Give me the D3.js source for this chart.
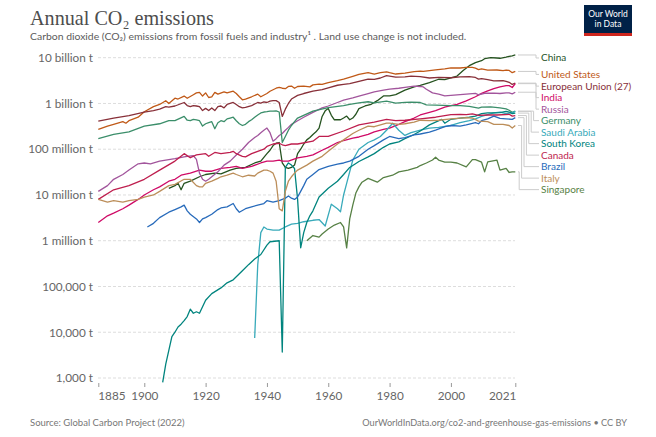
<!DOCTYPE html>
<html><head><meta charset="utf-8">
<script src="https://cdn.jsdelivr.net/npm/d3@7"></script>
<style>body{margin:0;background:#fff}svg{display:block}</style>
</head><body><svg id="c" width="656" height="437"></svg>
<script>
// ---------- DATA (values in million tonnes CO2) ----------
const yTicks = [1e3,1e4,1e5,1e6,1e7,1e8,1e9,1e10];
const yTickLabels = ["1,000 t","10,000 t","100,000 t","1 million t","10 million t","100 million t","1 billion t","10 billion t"];
const xTicks = [1885,1900,1920,1940,1960,1980,2000,2021];
const countries = ["China","United States","European Union (27)","India","Russia","Germany","Saudi Arabia","South Korea","Canada","Brazil","Italy","Singapore"];
const colors = ["#25521f","#C05917","#883039","#CF0A66","#A2559C","#3B8E6A","#38AABA","#00847E","#BE1E4E","#286BBB","#BC8E5A","#578145"];

const china = [[1908,14],[1910,16],[1911,18],[1912,13],[1913,18],[1915,20],[1918,25],[1920,28],[1923,30],[1925,29],[1928,35],[1930,38],[1933,40],[1936,50],[1938,55],[1940,80],[1941,95],[1942,120],[1943,135],[1944,140],[1945,50],[1946,40],[1947,38],[1948,40],[1949,45],[1950,80],[1951,100],[1952,130],[1953,160],[1954,180],[1955,210],[1956,240],[1957,290],[1958,520],[1959,690],[1960,780],[1961,550],[1962,440],[1963,440],[1964,440],[1965,480],[1966,530],[1967,440],[1968,480],[1969,580],[1970,770],[1972,880],[1974,960],[1976,1150],[1978,1460],[1980,1470],[1982,1560],[1985,1950],[1988,2310],[1990,2480],[1993,2860],[1996,3380],[1998,3330],[2000,3640],[2002,3970],[2004,5250],[2006,6700],[2008,7800],[2010,8600],[2011,9500],[2012,9800],[2013,10000],[2015,9860],[2016,9720],[2018,10300],[2019,10700],[2020,11000],[2021,11470]];
const unitedStates = [[1885,270],[1888,320],[1890,350],[1893,400],[1894,370],[1895,420],[1898,500],[1900,660],[1903,850],[1905,950],[1907,1150],[1908,1000],[1910,1300],[1911,1250],[1913,1450],[1914,1300],[1916,1550],[1917,1700],[1918,1750],[1919,1450],[1920,1700],[1921,1350],[1922,1400],[1923,1750],[1924,1600],[1926,1800],[1927,1700],[1929,1850],[1930,1650],[1931,1400],[1932,1200],[1933,1250],[1935,1400],[1937,1600],[1938,1400],[1940,1650],[1941,1850],[1943,2150],[1944,2250],[1945,2150],[1946,2100],[1947,2350],[1948,2400],[1949,2150],[1950,2350],[1952,2400],[1954,2300],[1955,2550],[1957,2650],[1958,2600],[1960,2850],[1963,3150],[1965,3400],[1968,3900],[1970,4300],[1973,4700],[1975,4400],[1977,4700],[1979,4900],[1980,4700],[1982,4400],[1985,4600],[1988,4950],[1990,5100],[1991,5050],[1995,5400],[1998,5700],[2000,6000],[2003,5950],[2005,6130],[2007,6130],[2008,5900],[2009,5480],[2010,5680],[2012,5360],[2015,5390],[2017,5210],[2018,5380],[2019,5260],[2020,4710],[2021,5010]];
const eu27 = [[1885,410],[1890,480],[1895,540],[1900,650],[1903,700],[1905,750],[1907,850],[1908,830],[1910,880],[1913,1050],[1914,900],[1915,850],[1916,900],[1917,880],[1918,850],[1919,700],[1920,780],[1921,700],[1922,800],[1923,700],[1924,850],[1925,880],[1926,800],[1927,950],[1929,1050],[1930,950],[1931,850],[1932,800],[1933,820],[1935,900],[1937,1050],[1938,1020],[1939,1080],[1940,1050],[1941,1120],[1942,1150],[1943,1150],[1944,1050],[1945,520],[1946,750],[1947,1000],[1948,1250],[1950,1500],[1952,1650],[1955,1850],[1958,2000],[1960,2200],[1963,2500],[1965,2600],[1967,2700],[1970,3050],[1973,3400],[1975,3350],[1977,3600],[1979,4050],[1980,3950],[1982,3750],[1985,3800],[1987,3950],[1990,3850],[1993,3600],[1996,3700],[2000,3650],[2003,3800],[2006,3850],[2008,3700],[2009,3400],[2010,3500],[2012,3300],[2014,3100],[2017,3150],[2018,3050],[2019,2900],[2020,2600],[2021,2780]];
const india = [[1885,2.5],[1888,3.5],[1890,4],[1893,5],[1895,6],[1898,8],[1900,10],[1903,13],[1905,15],[1908,20],[1910,22],[1912,27],[1915,30],[1918,35],[1920,33],[1922,33],[1925,38],[1928,40],[1930,42],[1932,38],[1935,42],[1938,50],[1940,55],[1942,55],[1944,58],[1945,55],[1947,55],[1950,65],[1953,70],[1955,75],[1958,95],[1960,110],[1963,140],[1965,155],[1968,175],[1970,185],[1973,210],[1975,240],[1978,270],[1980,290],[1983,350],[1985,400],[1988,480],[1990,560],[1993,640],[1995,700],[1998,830],[2000,900],[2002,950],[2005,1140],[2008,1400],[2010,1660],[2012,1880],[2014,2100],[2016,2300],[2018,2450],[2019,2450],[2020,2230],[2021,2710]];
const russia = [[1885,12],[1888,16],[1890,22],[1893,28],[1895,35],[1898,48],[1900,50],[1902,48],[1905,55],[1907,58],[1910,62],[1913,68],[1914,70],[1916,72],[1917,60],[1918,30],[1919,22],[1920,20],[1921,22],[1922,25],[1924,32],[1926,45],[1928,55],[1930,75],[1932,100],[1934,140],[1936,180],[1937,200],[1938,230],[1939,260],[1940,290],[1941,230],[1942,150],[1943,170],[1944,200],[1945,220],[1946,260],[1947,300],[1948,350],[1950,420],[1952,500],[1955,640],[1958,800],[1960,880],[1963,1050],[1965,1180],[1968,1320],[1970,1450],[1973,1650],[1975,1800],[1978,1950],[1980,2050],[1983,2150],[1985,2250],[1988,2400],[1990,2350],[1991,2300],[1992,2050],[1994,1700],[1996,1600],[1998,1470],[2000,1500],[2003,1560],[2006,1620],[2008,1660],[2009,1550],[2011,1670],[2014,1680],[2016,1650],[2018,1710],[2019,1700],[2020,1620],[2021,1760]];
const germany = [[1885,170],[1890,210],[1895,240],[1900,320],[1905,360],[1908,420],[1910,420],[1913,520],[1914,430],[1915,420],[1916,450],[1917,440],[1918,420],[1919,320],[1920,360],[1921,380],[1922,400],[1923,280],[1924,380],[1925,420],[1926,400],[1927,460],[1928,480],[1929,500],[1930,420],[1931,360],[1932,330],[1933,350],[1934,400],[1935,440],[1936,500],[1937,560],[1938,620],[1939,650],[1940,660],[1941,680],[1942,680],[1943,690],[1944,650],[1945,140],[1946,190],[1947,260],[1948,330],[1949,400],[1950,480],[1955,680],[1960,810],[1965,900],[1967,950],[1970,1030],[1973,1090],[1975,1030],[1979,1120],[1982,1020],[1985,1060],[1987,1070],[1990,1050],[1992,930],[1995,920],[2000,900],[2003,900],[2006,860],[2009,790],[2010,830],[2013,840],[2016,800],[2018,760],[2019,710],[2020,640],[2021,680]];
const saudiArabia = [[1936,0.0075],[1937,0.3],[1938,1.5],[1939,2.0],[1940,1.8],[1942,1.7],[1944,1.7],[1946,2.0],[1948,2.3],[1950,2.4],[1952,2.6],[1955,2.8],[1957,2.9],[1959,2.1],[1961,6.3],[1963,5],[1964,4.3],[1965,10],[1966,18],[1968,58],[1970,100],[1973,140],[1975,160],[1977,190],[1979,260],[1981,370],[1983,260],[1985,200],[1987,230],[1990,260],[1993,290],[1996,300],[2000,330],[2003,380],[2006,420],[2008,460],[2010,520],[2012,570],[2014,620],[2016,650],[2018,600],[2020,630],[2021,670]];
const southKorea = [[1906,0.0008],[1907,0.002],[1908,0.004],[1909,0.008],[1910,0.01],[1911,0.013],[1912,0.015],[1913,0.018],[1914,0.022],[1915,0.032],[1916,0.026],[1917,0.028],[1918,0.026],[1920,0.05],[1922,0.07],[1925,0.093],[1927,0.12],[1929,0.14],[1932,0.22],[1934,0.3],[1936,0.4],[1938,0.5],[1940,0.8],[1941,0.95],[1944,1.0],[1945,0.0037],[1946,40],[1947,50],[1948,45],[1949,38],[1950,8],[1951,0.7],[1952,1.5],[1953,2.5],[1954,3.5],[1955,4.5],[1957,9],[1960,14],[1963,20],[1965,28],[1967,40],[1970,54],[1973,68],[1975,80],[1978,110],[1980,130],[1983,145],[1985,170],[1988,210],[1990,250],[1993,340],[1995,390],[1997,450],[1998,370],[2000,450],[2003,480],[2006,500],[2008,530],[2010,600],[2012,620],[2014,620],[2016,630],[2018,670],[2019,650],[2020,600],[2021,616]];
const canada = [[1885,8],[1890,13],[1895,16],[1900,22],[1905,35],[1910,55],[1913,80],[1915,65],[1917,75],[1920,80],[1921,70],[1923,85],[1925,80],[1928,85],[1929,90],[1930,80],[1932,70],[1933,68],[1935,80],[1937,90],[1939,100],[1940,115],[1942,130],[1944,135],[1945,125],[1946,120],[1948,130],[1950,130],[1955,150],[1957,190],[1960,190],[1965,250],[1970,340],[1975,390],[1979,450],[1982,420],[1985,430],[1990,460],[1995,500],[2000,570],[2003,580],[2005,570],[2007,590],[2009,550],[2012,560],[2015,560],[2019,580],[2020,530],[2021,545]];
const brazil = [[1901,2.0],[1903,2.4],[1905,3.2],[1908,4.2],[1910,4.8],[1912,5.5],[1913,6.0],[1914,4.5],[1915,3.8],[1917,3.0],[1918,2.5],[1919,3.0],[1920,3.2],[1922,3.8],[1924,4.8],[1925,5.2],[1927,5.5],[1929,6.5],[1930,5.0],[1931,4.2],[1933,5.0],[1935,5.5],[1937,6.0],[1939,6.5],[1940,7.5],[1942,7.0],[1944,7.5],[1946,8.5],[1947,9.5],[1948,8.5],[1949,8.0],[1950,9],[1951,12],[1952,16],[1953,22],[1955,28],[1957,36],[1960,42],[1963,47],[1965,50],[1967,55],[1970,70],[1973,100],[1975,120],[1978,160],[1980,190],[1983,170],[1985,180],[1988,205],[1990,215],[1993,235],[1995,260],[1998,310],[2000,330],[2003,320],[2005,340],[2008,380],[2009,360],[2010,420],[2012,460],[2014,530],[2016,470],[2018,460],[2020,450],[2021,490]];
const italy = [[1885,8],[1888,7],[1890,7.5],[1893,7],[1895,7.5],[1898,8],[1900,9],[1903,10],[1905,12],[1908,16],[1910,17],[1913,22],[1915,22],[1917,16],[1918,15],[1919,15],[1920,18],[1922,20],[1924,23],[1925,25],[1927,27],[1929,30],[1930,28],[1932,25],[1934,27],[1936,26],[1937,30],[1939,35],[1940,35],[1941,33],[1942,30],[1943,20],[1944,5],[1945,4.5],[1946,12],[1947,20],[1948,25],[1949,30],[1950,35],[1953,45],[1955,55],[1958,70],[1960,90],[1963,130],[1965,160],[1968,220],[1970,260],[1973,320],[1975,310],[1979,370],[1980,370],[1983,350],[1985,360],[1988,390],[1990,430],[1993,420],[1996,430],[2000,460],[2003,480],[2005,490],[2007,480],[2009,410],[2012,400],[2014,350],[2017,350],[2019,330],[2020,290],[2021,330]];
const singapore = [[1953,1.0],[1955,1.3],[1957,1.2],[1958,1.4],[1960,1.8],[1962,2.2],[1964,2.5],[1965,2.0],[1966,0.7],[1967,3],[1968,6],[1969,11],[1970,15],[1971,19],[1973,23],[1976,19],[1978,24],[1981,27],[1983,32],[1986,35],[1989,40],[1990,44],[1992,50],[1994,58],[1995,67],[1996,58],[1998,52],[2000,52],[2002,50],[2005,41],[2007,59],[2008,59],[2010,52],[2011,32],[2012,53],[2015,58],[2016,35],[2018,38],[2019,31],[2020,32],[2021,32]];

const seriesData = [china, unitedStates, eu27, india, russia, germany, saudiArabia, southKorea, canada, brazil, italy, singapore];

// ---------- CHART ----------
const svg = d3.select("#c");
const font = "Lato, 'Noto Sans', sans-serif";
const x = d3.scaleLinear().domain([1885, 2021]).range([98.3, 515.3]);
const y = d3.scaleLog().domain([1e3, 1e10]).range([378, 57.7]);

function fitWidth(sel, w) {
  const cur = sel.node().getComputedTextLength();
  const fs = +sel.attr("font-size");
  sel.attr("font-size", fs * w / cur);
  return fs * w / cur;
}

// title
const title = svg.append("text").attr("x", 30).attr("y", 25)
  .attr("font-family", "'Liberation Serif', 'DejaVu Serif', serif").attr("font-size", 21)
  .attr("fill", "#4d4d4d").text("Annual CO₂ emissions");
fitWidth(title, 184);
const sub = svg.append("text").attr("x", 30).attr("y", 40)
  .attr("font-family", font).attr("font-size", 10.5).attr("fill", "#5b5b5b")
  .text("Carbon dioxide (CO₂) emissions from fossil fuels and industry¹ . Land use change is not included.");
fitWidth(sub, 437);

// logo
const logo = svg.append("g");
logo.append("rect").attr("x", 584).attr("y", 5).attr("width", 48).attr("height", 31).attr("fill", "#002147");
logo.append("rect").attr("x", 584).attr("y", 33).attr("width", 48).attr("height", 3).attr("fill", "#CE261E");
logo.append("text").attr("x", 608).attr("y", 17).attr("text-anchor", "middle").attr("font-family", font)
  .attr("font-size", 8.5).attr("fill", "#fff").text("Our World");
logo.append("text").attr("x", 608).attr("y", 27).attr("text-anchor", "middle").attr("font-family", font)
  .attr("font-size", 8.5).attr("fill", "#fff").text("in Data");

// measure axis font size from a reference label width
const probe = svg.append("text").attr("font-family", font).attr("font-size", 12).text("10 billion t");
const axisFs = fitWidth(probe, 55);
probe.remove();

// y grid + labels
const yAxis = d3.axisLeft(y).tickValues(yTicks).tickFormat((d, i) => yTickLabels[i]).tickSize(0).tickPadding(0);
const gy = svg.append("g").attr("transform", "translate(93,0)").call(yAxis);
gy.select(".domain").remove();
gy.selectAll("text").attr("font-family", font).attr("font-size", axisFs).attr("fill", "#666").attr("dy", "0.32em");
svg.append("g").selectAll("line").data(yTicks).join("line")
  .attr("x1", 98).attr("x2", 515).attr("y1", d => y(d)).attr("y2", d => y(d))
  .attr("stroke", "#ddd").attr("stroke-dasharray", "3,2").attr("stroke-width", 1);

// x axis
const xAxis = d3.axisBottom(x).tickValues(xTicks).tickFormat(d3.format("d")).tickSize(4).tickPadding(5);
const gx = svg.append("g").attr("transform", "translate(0,383)").call(xAxis);
gx.select(".domain").remove();
gx.selectAll("line").attr("stroke", "#999");
gx.selectAll("text").attr("font-family", font).attr("font-size", axisFs).attr("fill", "#666")
  .attr("text-anchor", d => d === 1885 ? "start" : d === 2021 ? "end" : "middle")
  .attr("dx", d => d === 1885 ? -0.5 : d === 2021 ? 0.5 : 0);

// lines
const line = d3.line().x(d => x(d[0])).y(d => y(d[1] * 1e6));
svg.append("g").selectAll("path").data(seriesData).join("path")
  .attr("d", line).attr("fill", "none")
  .attr("stroke", (d, i) => colors[i]).attr("stroke-width", 1.3).attr("stroke-linejoin", "round");

// legend labels with connector
const ends = seriesData.map((s, i) => ({ i, y: y(s[s.length - 1][1] * 1e6) }));
ends.sort((a, b) => a.y - b.y);
let prev = -Infinity;
ends.forEach(e => { e.ly = Math.max(e.y + 3, prev + 11.5); prev = e.ly; });
const lg = svg.append("g");
ends.forEach((e, k) => {
  const ex = k < 5 ? 536 : 536 - (k - 4) * 2.4;
  lg.append("path").attr("d", `M518,${e.y}H${ex}V${e.ly}H539`)
    .attr("fill", "none").attr("stroke", "#ccc").attr("stroke-width", 1);
  lg.append("text").attr("x", 541).attr("y", e.ly).attr("dy", "0.35em")
    .attr("font-family", font).attr("font-size", 10).attr("fill", colors[e.i]).text(countries[e.i]);
});

// footer
svg.append("text").attr("x", 30).attr("y", 426).attr("font-family", font).attr("font-size", 9.5)
  .attr("fill", "#777").text("Source: Global Carbon Project (2022)");
const right = svg.append("text").attr("x", 627).attr("y", 426).attr("text-anchor", "end").attr("font-family", font).attr("font-size", 9.5)
  .attr("fill", "#777").text("OurWorldInData.org/co2-and-greenhouse-gas-emissions • CC BY");
fitWidth(right, 265);
</script>
</body></html>
